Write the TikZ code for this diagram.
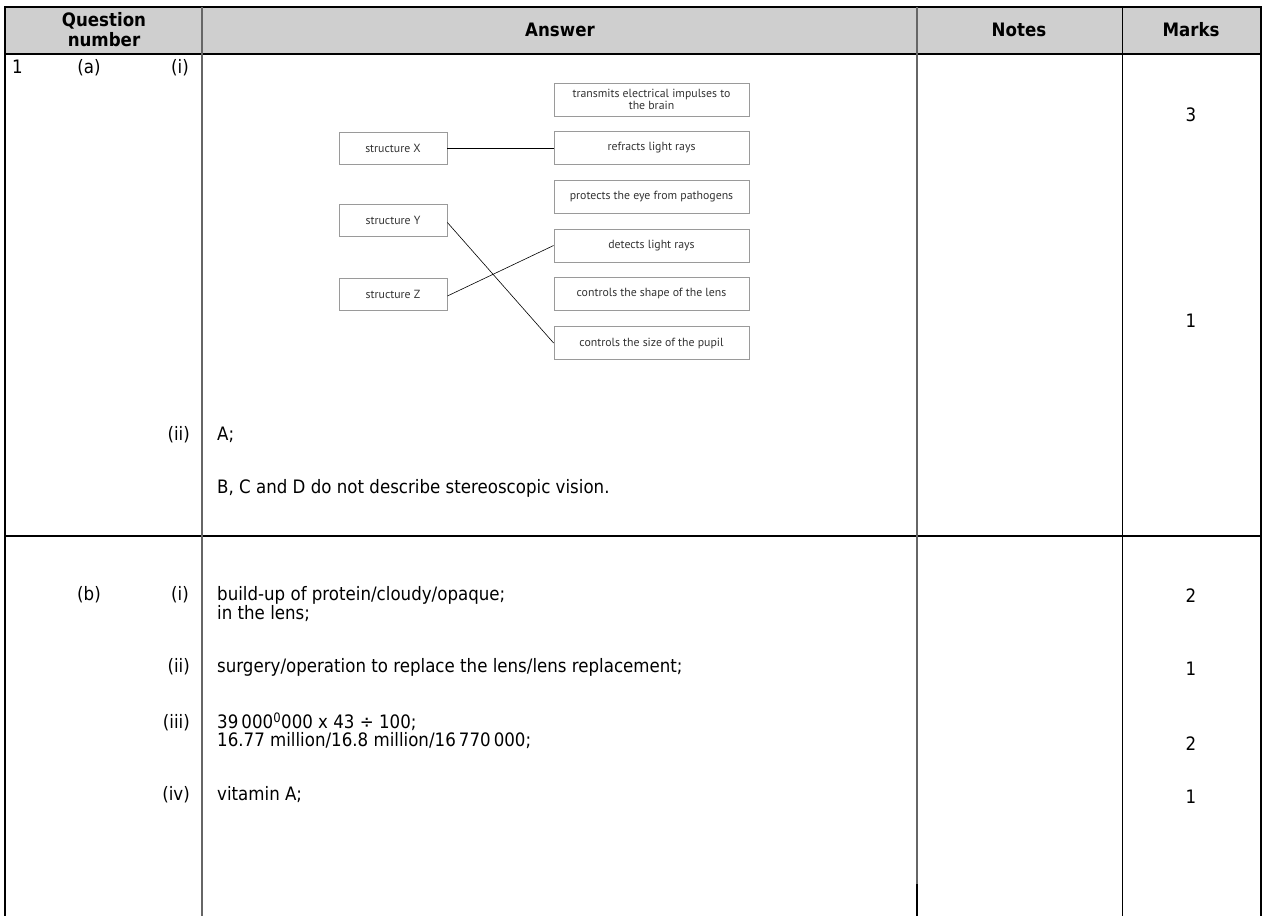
\documentclass[tikz,border=0pt]{standalone}
\usepackage{fontspec}
\setmainfont{DejaVu Sans}[FakeStretch=0.9]
\newfontfamily\diagfont{PT Sans}
\definecolor{hdrfill}{HTML}{CFCFCF}
\definecolor{boxline}{HTML}{9A9A9A}
\definecolor{diagtext}{HTML}{333333}
\definecolor{colgray}{HTML}{666666}
\begin{document}
\begin{tikzpicture}[x=1pt,y=-1pt,
  txt/.style={font=\fontsize{18.5}{19}\selectfont, inner sep=0pt},
  hdr/.style={font=\fontsize{18.5}{20}\selectfont\bfseries, inner sep=0pt, align=center},
  dbox/.style={draw=boxline, line width=0.8pt, font=\diagfont\fontsize{11.8}{12.5}\selectfont,
     text=diagtext, inner sep=0pt, align=center},
  lbox/.style={dbox, minimum width=108pt, minimum height=32pt},
  rbox/.style={dbox, minimum width=195pt, minimum height=33pt},
  conn/.style={line width=0.6pt, black}]
\useasboundingbox (0,0) rectangle (1266,916);
% header
\fill[hdrfill] (5,7) rectangle (1261,54);
\draw[line width=2pt] (4,7) -- (1262,7);
\draw[line width=1.5pt] (4,54) -- (1262,54);
\draw[line width=2pt] (4,536) -- (1262,536);
% verticals
\draw[line width=1.5pt] (5,6) -- (5,916);
\draw[line width=1.5pt, colgray] (202,7) -- (202,916);
\draw[line width=1.5pt, colgray] (917,7) -- (917,884);
\draw[line width=2pt] (917,884) -- (917,916);
\draw[line width=1pt] (1122,7) -- (1122,916);
\draw[line width=1.5pt] (1261,6) -- (1261,916);
% header text
\node[hdr] (hq) at (104,30) {Question\\number};
\node[hdr] (ha) at (560,30) {Answer};
\node[hdr] (hn) at (1019,30) {Notes};
\node[hdr] (hm) at (1191,30) {Marks};
% question numbers
\node[txt, anchor=mid west] (q1) at (12,71) {1};
\node[txt, anchor=mid] (qa) at (89,71) {(a)};
\node[txt, anchor=mid east] (qai) at (189,71) {(i)};
\node[txt, anchor=mid east] (qaii) at (190,438) {(ii)};
\node[txt, anchor=mid] (qb) at (89,598) {(b)};
\node[txt, anchor=mid east] (qbi) at (189,598) {(i)};
\node[txt, anchor=mid east] (qbii) at (190,670) {(ii)};
\node[txt, anchor=mid east] (qbiii) at (190,726) {(iii)};
\node[txt, anchor=mid east] (qbiv) at (190,798) {(iv)};
% answers
\node[txt, anchor=mid west] (aii1) at (217,438) {A;};
\node[txt, anchor=mid west] (aii2) at (217,491) {B, C and D do not describe stereoscopic vision.};
\node[txt, anchor=mid west] (bi1) at (217,598) {build-up of protein/cloudy/opaque;};
\node[txt, anchor=mid west] (bi2) at (217,617) {in the lens;};
\node[txt, anchor=mid west] (bii) at (217,670) {surgery/operation to replace the lens/lens replacement;};
\node[txt, anchor=mid west] (biii1) at (217,726) {39\,000\textsuperscript{0}000 x 43 ÷ 100;};
\node[txt, anchor=mid west] (biii2) at (217,744) {16.77 million/16.8 million/16\,770\,000;};
\node[txt, anchor=mid west] (biv) at (217,798) {vitamin A;};
% marks
\node[txt] (m1) at (1191,115) {3};
\node[txt] (m2) at (1191,321) {1};
\node[txt] (m3) at (1191,596) {2};
\node[txt] (m4) at (1191,669) {1};
\node[txt] (m5) at (1191,744) {2};
\node[txt] (m6) at (1191,797) {1};
% matching diagram
\node[lbox] (sx) at (393,148) {structure X};
\node[lbox] (sy) at (393,220.5) {structure Y};
\node[lbox] (sz) at (393,294) {structure Z};
\node[rbox] (r1) at (651.5,99.5) {transmits electrical impulses to\\the brain};
\node[rbox] (r2) at (651.5,148) {refracts light rays};
\node[rbox] (r3) at (651.5,196.5) {protects the eye from pathogens};
\node[rbox] (r4) at (651.5,245.5) {detects light rays};
\node[rbox] (r5) at (651.5,294) {controls the shape of the lens};
\node[rbox] (r6) at (651.5,343) {controls the size of the pupil};
\draw[line width=1pt] (sx.east) -- (r2.west);
\draw[conn] ([yshift=-2pt]sy.east) -- (r6.west);
\draw[conn] ([yshift=-2pt]sz.east) -- (r4.west);
\end{tikzpicture}
\end{document}
